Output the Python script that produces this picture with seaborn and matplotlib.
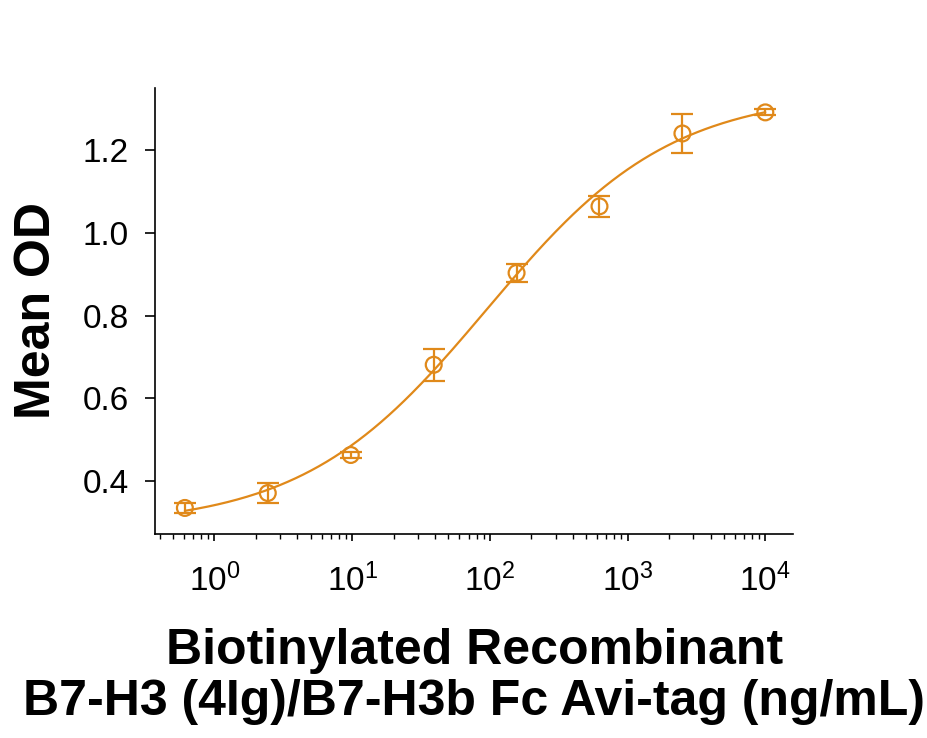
import numpy as np
import pandas as pd
import matplotlib
matplotlib.use("Agg")
import matplotlib.pyplot as plt
import matplotlib.ticker as mticker
import seaborn as sns

# ── data ───────────────────────────────────────────────────────
conc = [0.61, 2.44, 9.77, 39.1, 156.25, 625, 2500, 10000]
mean_od = [0.335, 0.371, 0.463, 0.681, 0.903, 1.064, 1.240, 1.291]
sd_od = [0.011, 0.025, 0.008, 0.039, 0.022, 0.025, 0.047, 0.007]

# 4PL fit parameters for the drawn curve
fit_bottom, fit_top, fit_ec50, fit_hill = 0.29, 1.34, 95.0, 0.65

color = "#E0891A"

sns.set_theme(style="white")
plt.rcParams["font.family"] = ["Liberation Sans", "DejaVu Sans"]
plt.rcParams["text.color"] = "black"
plt.rcParams["axes.labelcolor"] = "black"

df = pd.DataFrame({"conc": conc, "od": mean_od, "sd": sd_od})
xs = np.logspace(np.log10(conc[0]), np.log10(conc[-1]), 300)
curve = pd.DataFrame({
    "conc": xs,
    "od": fit_bottom + (fit_top - fit_bottom) / (1 + (fit_ec50 / xs) ** fit_hill),
})

fig = plt.figure(figsize=(9.28, 7.38), dpi=100)
ax = fig.add_axes([0.167, 0.2764, 0.688, 0.6044])

sns.lineplot(data=curve, x="conc", y="od", ax=ax, color=color, lw=1.6)
ax.errorbar(df["conc"], df["od"], yerr=df["sd"], fmt="none", ecolor=color,
            elinewidth=1.6, capsize=8, capthick=1.6)
sns.scatterplot(data=df, x="conc", y="od", ax=ax, marker="o", s=130,
                facecolor="none", edgecolor=color, linewidth=1.6, zorder=5)

ax.set_xscale("log")
ax.set_xlim(0.37, 16000)
ax.set_ylim(0.272, 1.35)
ax.set_yticks([0.4, 0.6, 0.8, 1.0, 1.2])
ax.yaxis.set_major_formatter(mticker.FormatStrFormatter("%.1f"))
ax.xaxis.set_major_locator(mticker.LogLocator(base=10, numticks=10))
ax.xaxis.set_minor_locator(mticker.LogLocator(base=10, subs=np.arange(2, 10), numticks=20))
ax.xaxis.set_minor_formatter(mticker.NullFormatter())

for s in ["top", "right"]:
    ax.spines[s].set_visible(False)
for s in ["left", "bottom"]:
    ax.spines[s].set_color("black")
    ax.spines[s].set_linewidth(1.2)

ax.tick_params(axis="y", which="major", direction="out", length=7, width=1.2,
               labelsize=24, pad=12, left=True, colors="black")
ax.tick_params(axis="x", which="major", direction="out", length=5, width=1.2,
               labelsize=24, pad=16, bottom=True, colors="black")
ax.tick_params(axis="x", which="minor", direction="out", length=3.5, width=1.0,
               bottom=True, colors="black")

ax.set_ylabel("Mean OD", fontsize=36, fontweight="bold", labelpad=16)
ax.set_xlabel("Biotinylated Recombinant\nB7-H3 (4Ig)/B7-H3b Fc Avi-tag (ng/mL)",
              fontsize=36, fontweight="bold", labelpad=22, linespacing=1.12)
ax.grid(False)

fig.savefig("out.png", dpi=100)
